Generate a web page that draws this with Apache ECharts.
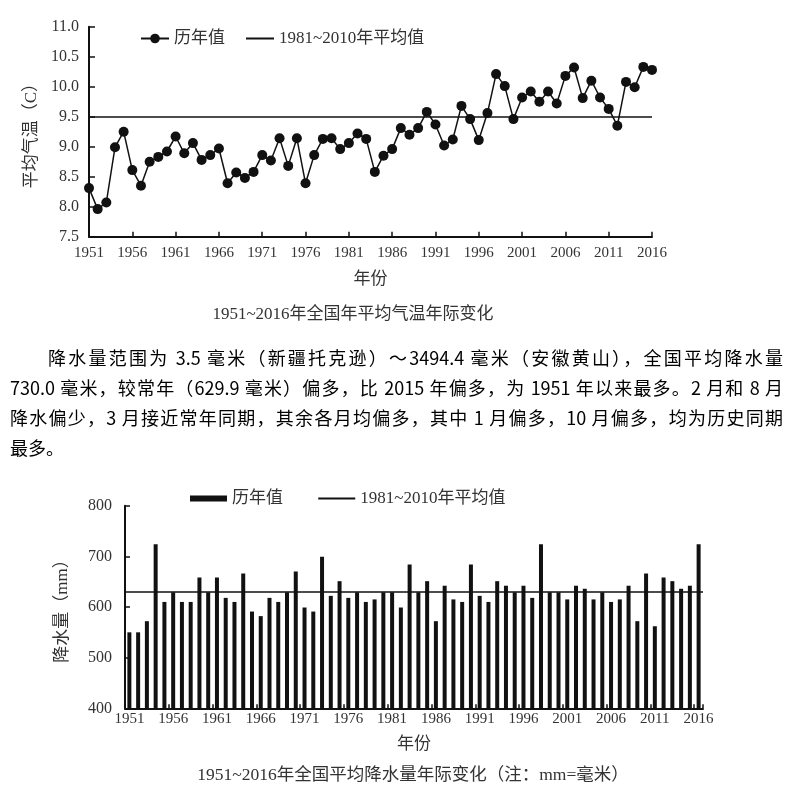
<!DOCTYPE html>
<html>
<head>
<meta charset="utf-8">
<script src="https://cdn.jsdelivr.net/npm/echarts@6/dist/echarts.min.js"></script>
<style>
  html, body { margin: 0; padding: 0; background: #fff; }
  #chart { position: absolute; left: 0; top: 0; width: 792px; height: 789px; }
  #para { position: absolute; left: 10px; top: 342px; width: 773px; font-family: 'Noto Sans CJK SC', sans-serif; font-size: 18px; line-height: 30px; color: #000; }
  #para .l { text-align: justify; text-align-last: justify; white-space: nowrap; }
  #para .last { text-align: left; }
</style>
</head>
<body>
<div id="chart"></div>
<div id="para">
  <div class="l" style="padding-left:38px">降水量范围为 3.5 毫米（新疆托克逊）～3494.4 毫米（安徽黄山），全国平均降水量</div>
  <div class="l">730.0 毫米，较常年（629.9 毫米）偏多，比 2015 年偏多，为 1951 年以来最多。2 月和 8 月</div>
  <div class="l">降水偏少，3 月接近常年同期，其余各月均偏多，其中 1 月偏多，10 月偏多，均为历史同期</div>
  <div class="last">最多。</div>
</div>
<script>
const years = ['1951','1952','1953','1954','1955','1956','1957','1958','1959','1960',
  '1961','1962','1963','1964','1965','1966','1967','1968','1969','1970',
  '1971','1972','1973','1974','1975','1976','1977','1978','1979','1980',
  '1981','1982','1983','1984','1985','1986','1987','1988','1989','1990',
  '1991','1992','1993','1994','1995','1996','1997','1998','1999','2000',
  '2001','2002','2003','2004','2005','2006','2007','2008','2009','2010',
  '2011','2012','2013','2014','2015','2016'];

const tempValues = [8.31,7.96,8.07,8.99,9.25,8.61,8.35,8.75,8.83,8.92,
  9.17,8.89,9.06,8.78,8.86,8.97,8.39,8.57,8.48,8.58,
  8.86,8.77,9.14,8.68,9.14,8.39,8.86,9.13,9.14,8.96,
  9.06,9.22,9.13,8.58,8.85,8.96,9.31,9.20,9.31,9.58,
  9.37,9.02,9.12,9.68,9.46,9.11,9.56,10.21,10.01,9.46,
  9.82,9.92,9.75,9.92,9.72,10.18,10.32,9.81,10.10,9.82,
  9.63,9.35,10.08,9.99,10.33,10.28];
const tempNormal = 9.5;

const precipValues = [550,550,572,724,610,629,610,610,658,629,
  658,618,610,666,591,582,618,610,629,670,
  599,591,699,622,651,618,629,610,615,629,
  629,599,684,629,651,572,642,615,610,684,
  622,610,651,642,629,642,618,724,629,629,
  615,642,636,615,629,610,615,642,572,666,
  562,658,651,636,642,724];
const precipNormal = 629.9;

const seriesNames = ['历年值', '1981~2010年平均值'];
const tempTicks = { min: 7.5, max: 11.0, interval: 0.5 };
const precipTicks = { min: 400, max: 800, interval: 100 };

const FONT = "'Liberation Serif', 'Noto Sans CJK SC', serif";
const TXT = '#333';

const chart = echarts.init(document.getElementById('chart'));
const axisLineStyle = { show: true, lineStyle: { color: '#111', width: 2 } };
const hiddenSymbol = { opacity: 0 };

chart.setOption({
  animation: false,
  textStyle: { fontFamily: FONT, color: TXT },
  title: [
    { text: '1951~2016年全国年平均气温年际变化', left: 348, top: 301, textAlign: 'center',
      textStyle: { fontFamily: FONT, fontSize: 17, fontWeight: 'normal', color: TXT } },
    { text: '1951~2016年全国平均降水量年际变化（注：mm=毫米）', left: 408, top: 762, textAlign: 'center',
      textStyle: { fontFamily: FONT, fontSize: 17.5, fontWeight: 'normal', color: TXT } }
  ],
  legend: [
    { left: 135, top: 25, itemWidth: 28, itemHeight: 12, itemGap: 20,
      textStyle: { fontFamily: FONT, fontSize: 17, color: TXT },
      data: [{ name: seriesNames[0] }, { name: seriesNames[1], itemStyle: hiddenSymbol }] },
    { left: 185, top: 485, itemWidth: 37, itemHeight: 6, itemGap: 30,
      textStyle: { fontFamily: FONT, fontSize: 17, color: TXT },
      data: [{ name: seriesNames[0] + ' ', icon: 'rect' }, { name: seriesNames[1] + ' ', itemStyle: hiddenSymbol }] }
  ],
  grid: [
    { left: 89, top: 26.7, width: 563, height: 210, containLabel: false },
    { left: 125, top: 505.7, width: 578, height: 202.6, containLabel: false }
  ],
  xAxis: [
    { gridIndex: 0, type: 'category', data: years, boundaryGap: false,
      name: '年份', nameLocation: 'middle', nameGap: 34,
      nameTextStyle: { fontFamily: FONT, fontSize: 17, color: TXT },
      axisLine: axisLineStyle,
      axisTick: { show: true, inside: true, length: 5, interval: 4, lineStyle: { color: '#111', width: 1.5 } },
      axisLabel: { interval: 4, fontSize: 15, margin: 9, color: TXT, fontFamily: FONT },
      splitLine: { show: false } },
    { gridIndex: 1, type: 'category', data: years, boundaryGap: true,
      name: '年份', nameLocation: 'middle', nameGap: 28,
      nameTextStyle: { fontFamily: FONT, fontSize: 17, color: TXT },
      axisLine: axisLineStyle,
      axisTick: { show: true, inside: true, length: 4, interval: 4, lineStyle: { color: '#111', width: 1.5 } },
      axisLabel: { interval: 4, fontSize: 15, margin: 3, color: TXT, fontFamily: FONT },
      splitLine: { show: false } }
  ],
  yAxis: [
    { gridIndex: 0, type: 'value', min: tempTicks.min, max: tempTicks.max, interval: tempTicks.interval,
      name: '平均气温（C）', nameLocation: 'middle', nameGap: 42,
      nameTextStyle: { fontFamily: FONT, fontSize: 17, color: TXT },
      axisLine: axisLineStyle,
      axisTick: { show: true, inside: true, length: 6, lineStyle: { color: '#111', width: 1.5 } },
      axisLabel: { fontSize: 16, margin: 10, color: TXT, fontFamily: FONT, formatter: v => v.toFixed(1) },
      splitLine: { show: false } },
    { gridIndex: 1, type: 'value', min: precipTicks.min, max: precipTicks.max, interval: precipTicks.interval,
      name: '降水量（mm）', nameLocation: 'middle', nameGap: 54,
      nameTextStyle: { fontFamily: FONT, fontSize: 17, color: TXT },
      axisLine: axisLineStyle,
      axisTick: { show: true, inside: true, length: 5, lineStyle: { color: '#111', width: 1.5 } },
      axisLabel: { fontSize: 16, margin: 13, color: TXT, fontFamily: FONT },
      splitLine: { show: false } }
  ],
  series: [
    { name: seriesNames[0], type: 'line', xAxisIndex: 0, yAxisIndex: 0, data: tempValues,
      symbol: 'circle', symbolSize: 10, showSymbol: true, showAllSymbol: true, color: '#111',
      lineStyle: { color: '#111', width: 1.5 }, itemStyle: { color: '#111' } },
    { name: seriesNames[1], type: 'line', xAxisIndex: 0, yAxisIndex: 0, data: [],
      symbol: 'none', color: '#111', lineStyle: { color: '#111', width: 1.5 },
      markLine: { silent: true, symbol: 'none', label: { show: false },
        lineStyle: { color: '#111', width: 1.5, type: 'solid' }, data: [{ yAxis: tempNormal }] } },
    { name: seriesNames[0] + ' ', type: 'bar', xAxisIndex: 1, yAxisIndex: 1, data: precipValues,
      barWidth: 4, color: '#111', itemStyle: { color: '#111' } },
    { name: seriesNames[1] + ' ', type: 'line', xAxisIndex: 1, yAxisIndex: 1, data: [],
      symbol: 'none', color: '#111', lineStyle: { color: '#111', width: 1.5 },
      markLine: { silent: true, symbol: 'none', label: { show: false },
        lineStyle: { color: '#111', width: 1.5, type: 'solid' }, data: [{ yAxis: precipNormal }] } }
  ]
});
</script>
</body>
</html>
